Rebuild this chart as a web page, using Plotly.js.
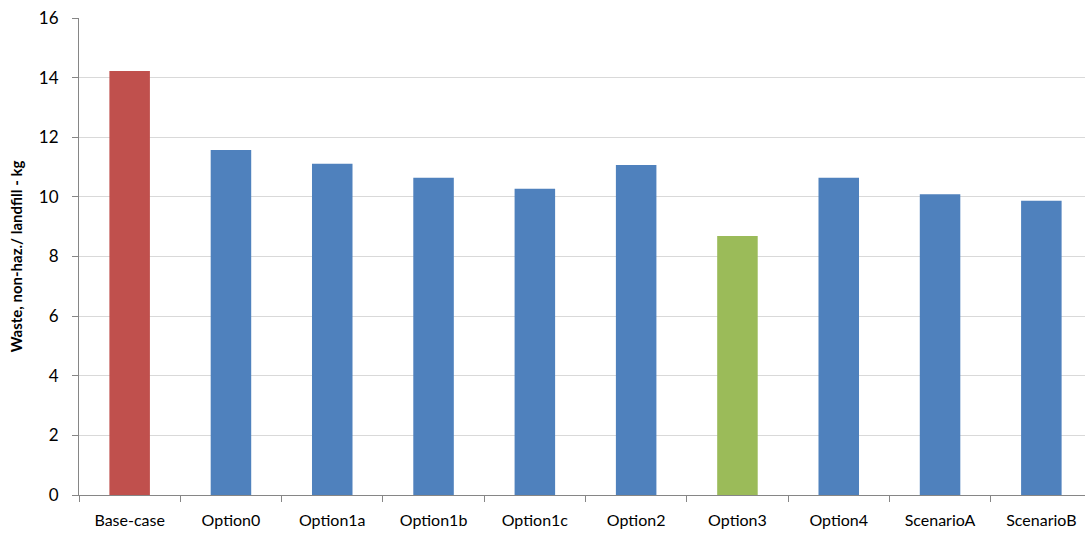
<!DOCTYPE html>
<html>
<head>
<meta charset="utf-8">
<script src="https://cdn.plot.ly/plotly-3.0.1.min.js"></script>
<style>
  html, body { margin: 0; padding: 0; overflow: hidden; background: #fff; }
  #chart { width: 1100px; height: 536px; }
</style>
</head>
<body>
<div id="chart"></div>
<script>
// Non-hazardous waste to landfill per scenario (kg)
const categories = ["Base-case", "Option0", "Option1a", "Option1b", "Option1c",
                    "Option2", "Option3", "Option4", "ScenarioA", "ScenarioB"];
const wasteKg = [14.22, 11.57, 11.11, 10.64, 10.27, 11.07, 8.69, 10.64, 10.09, 9.87];
const yTicks = [0, 2, 4, 6, 8, 10, 12, 14, 16];

// Bar colours: reference case red, best option green, others blue
const barColors = categories.map(c =>
  c === "Base-case" ? "#C0504D" : (c === "Option3" ? "#9BBB59" : "#4F81BD"));

const font = "Lato, 'Open Sans', sans-serif";

Plotly.newPlot("chart", [{
  type: "bar",
  x: categories,
  y: wasteKg,
  width: 0.4,
  marker: { color: barColors, line: { width: 0 } },
  hoverinfo: "x+y"
}], {
  width: 1100,
  height: 536,
  margin: { l: 78.6, r: 8, t: 18.3, b: 41 },
  paper_bgcolor: "#fff",
  plot_bgcolor: "#fff",
  showlegend: false,
  font: { family: font, size: 15, color: "#000" },
  xaxis: {
    type: "category",
    showline: true,
    linecolor: "#868686",
    linewidth: 1,
    ticks: "outside",
    tickson: "boundaries",
    ticklen: 6,
    tickcolor: "#868686",
    showgrid: false,
    tickfont: { family: font, size: 16, color: "#000" },
    ticklabelstandoff: 11
  },
  yaxis: {
    range: [0, 16],
    tickvals: yTicks,
    ticktext: yTicks.map(String),
    showline: true,
    linecolor: "#868686",
    linewidth: 1,
    ticks: "outside",
    ticklen: 6,
    tickcolor: "#868686",
    gridcolor: "#d9d9d9",
    gridwidth: 1,
    zeroline: false,
    tickfont: { family: font, size: 17, color: "#000" },
    ticklabelstandoff: 10,
    title: {
      text: "<b>Waste, non-haz./ landfill - kg</b>",
      font: { family: font, size: 15, color: "#000" },
      standoff: 12
    }
  }
}, { displayModeBar: false, staticPlot: true });
</script>
</body>
</html>
